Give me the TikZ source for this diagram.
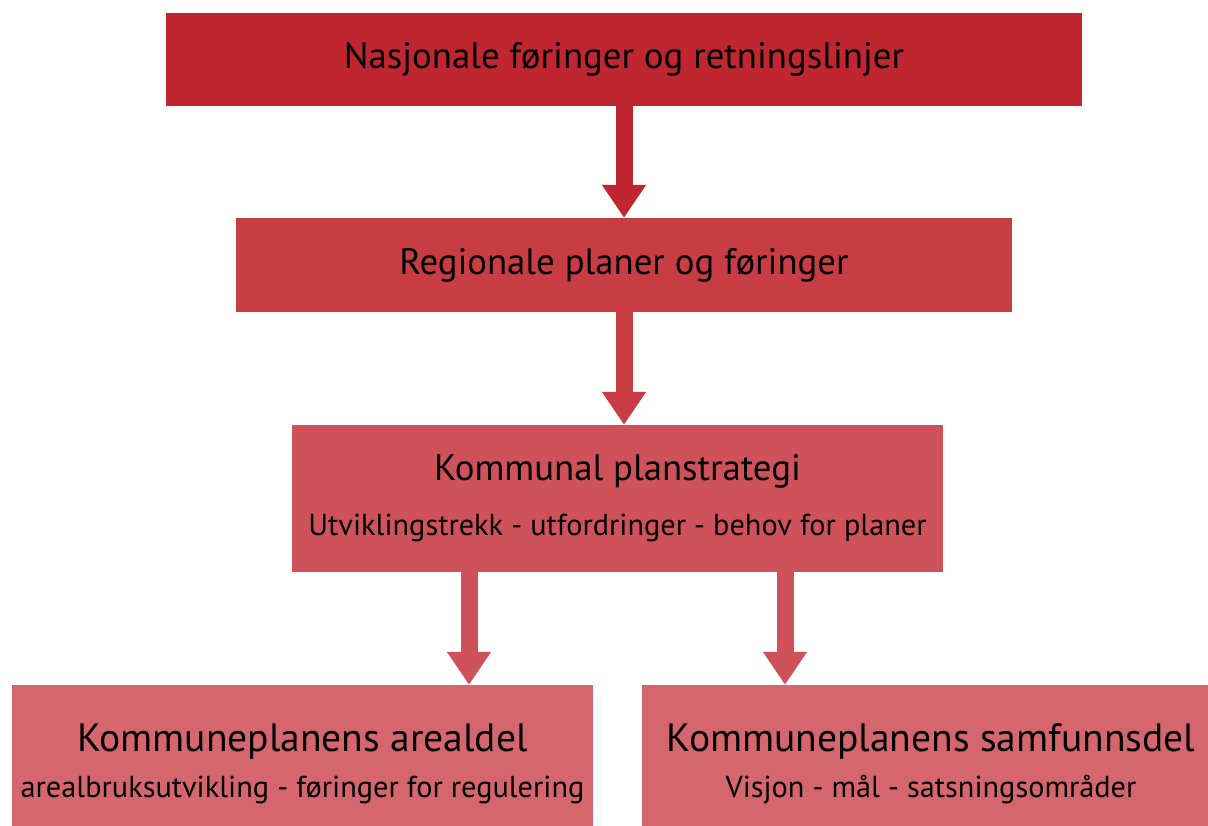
\documentclass[tikz,border=0pt]{standalone}
\usepackage{fontspec}
\setmainfont{PT Sans}
\usepackage{xcolor}
\usepackage{tikz}
\usetikzlibrary{arrows.meta,positioning}
\definecolor{natred}{RGB}{192,38,47}
\definecolor{regred}{RGB}{200,60,67}
\definecolor{komred}{RGB}{207,81,89}
\definecolor{delred}{RGB}{213,102,109}
\newcommand{\headfont}{\fontsize{36.8}{42}\selectfont}
\newcommand{\bigfont}{\fontsize{39.5}{46}\selectfont}
\newcommand{\subfont}{\fontsize{30.3}{36}\selectfont}

\begin{document}
\begin{tikzpicture}[x=1pt, y=-1pt,
    box/.style={rectangle, inner sep=0pt, align=center, text=black},
    flow/.style={line width=17pt, -{Triangle[width=42pt,length=33pt]}}]
  \useasboundingbox (0,0) rectangle (1208,826);
  \clip (0,0) rectangle (1208,826);
  \node[box, fill=natred, minimum width=916pt, minimum height=93pt]
    (nat) at (624,59.5) {\headfont Nasjonale føringer og retningslinjer};
  \node[box, fill=regred, minimum width=776pt, minimum height=94pt]
    (reg) at (624,265) {\headfont Regionale planer og føringer};
  \node[box, fill=komred, minimum width=651pt, minimum height=147pt]
    (strat) at (617.5,498.5) {\headfont Kommunal planstrategi\\[25pt]\subfont Utviklingstrekk - utfordringer - behov for planer};
  \node[box, fill=delred, minimum width=581pt, minimum height=158pt]
    (areal) at (302.5,764) {\bigfont Kommuneplanens arealdel\\[15pt]\subfont arealbruksutvikling - føringer for regulering};
  \node[box, fill=delred, minimum width=578pt, minimum height=158pt]
    (samf) at (931,764) {\bigfont Kommuneplanens samfunnsdel\\[15pt]\subfont Visjon - mål - satsningsområder};
  % arrows
  \draw[flow, natred] (nat.south) -- (reg.north);
  \draw[flow, regred] (reg.south) -- (strat.north -| reg.south);
  \draw[flow, komred] ([xshift=-148.5pt]strat.south) -- ([xshift=-148.5pt]strat.south |- areal.north);
  \draw[flow, komred] ([xshift=167.5pt]strat.south) -- ([xshift=167.5pt]strat.south |- samf.north);
\end{tikzpicture}
\end{document}
